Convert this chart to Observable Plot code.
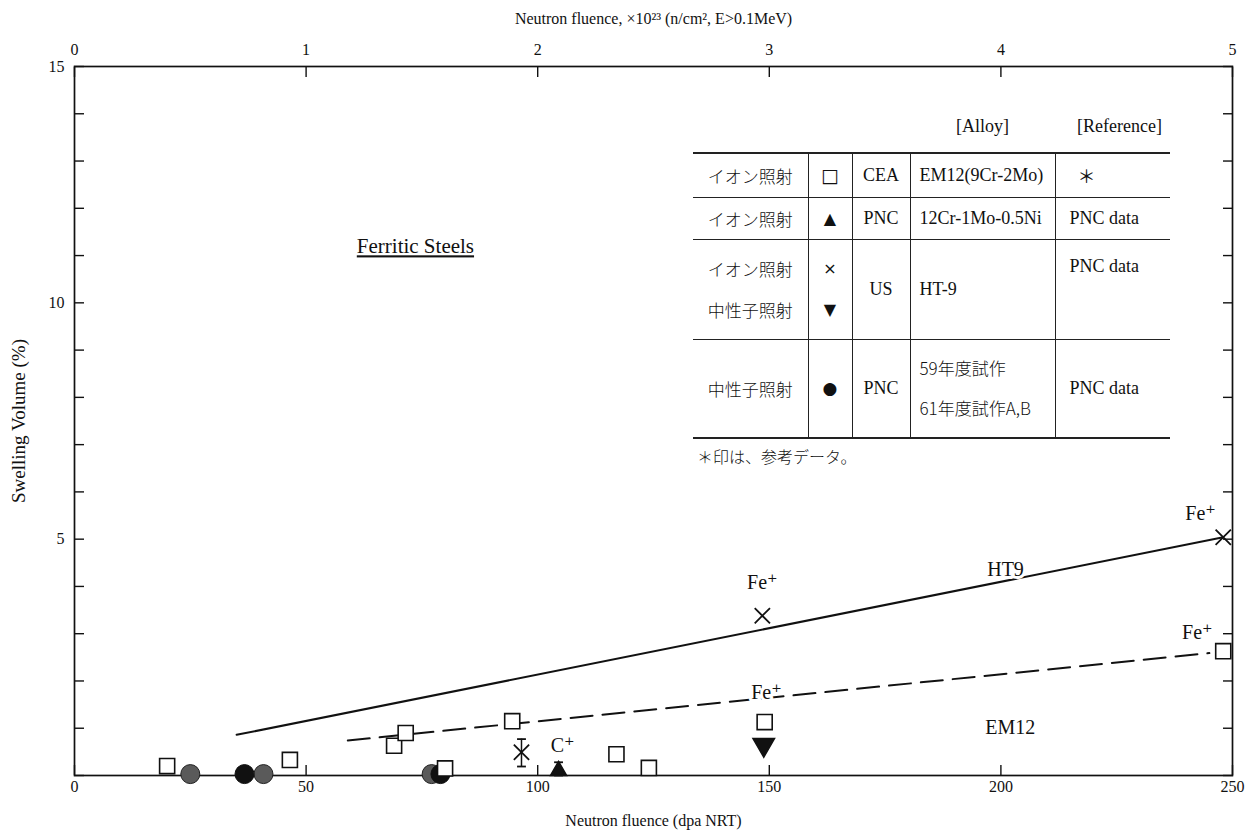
<!DOCTYPE html>
<html><head><meta charset="utf-8">
<script src="https://cdn.jsdelivr.net/npm/d3@7"></script>
<script src="https://cdn.jsdelivr.net/npm/@observablehq/plot@0.6"></script>
<style>
html,body{margin:0;padding:0;background:#fff;}
#wrap{position:relative;width:1260px;height:836px;overflow:hidden;background:#fff;}
#legend{position:absolute;left:693px;top:104px;font-family:'Liberation Serif','Noto Sans CJK JP',serif;font-size:18px;color:#111;}
#legend table{border-collapse:collapse;table-layout:fixed;width:477px;}
#legend td{padding:0;white-space:nowrap;}
#legend tr.b td{border-top:1.5px solid #222;}
#legend tr.b td+td{border-left:1.5px solid #222;}
#legend tr.first td{border-top:2px solid #222;}
#legend tr.last td{border-bottom:2px solid #222;}
.c{text-align:center;}
.l{text-align:left;padding-left:9px !important;}
.r{text-align:left;padding-left:14px !important;}
.jp{font-family:'Noto Sans CJK JP',sans-serif;font-size:17px;font-weight:300;}
.sym{font-family:'DejaVu Sans',sans-serif;font-size:19px;}
.two div{line-height:41px;}
#foot{position:absolute;left:697px;top:446px;font-family:'Noto Sans CJK JP',sans-serif;font-size:16px;font-weight:300;color:#111;line-height:20px;}
</style></head>
<body>
<div id="wrap">
<div id="chart"></div>
<div id="legend">
<table>
<colgroup><col style="width:115px"><col style="width:44px"><col style="width:58px"><col style="width:145px"><col style="width:115px"></colgroup>
<tr style="height:49px"><td></td><td></td><td></td><td class="c" style="vertical-align:top;padding-top:12px">[Alloy]</td><td class="c" style="vertical-align:top;padding-top:12px;padding-left:14px">[Reference]</td></tr>
<tr class="b first" style="height:44px"><td class="c jp">イオン照射</td><td class="c sym">□</td><td class="c">CEA</td><td class="l">EM12(9Cr-2Mo)</td><td class="r" style="padding-left:22px !important">＊</td></tr>
<tr class="b" style="height:42px"><td class="c jp">イオン照射</td><td class="c sym" style="font-size:16px">▲</td><td class="c">PNC</td><td class="l">12Cr-1Mo-0.5Ni</td><td class="r">PNC data</td></tr>
<tr class="b" style="height:100px"><td class="c jp two"><div>イオン照射</div><div>中性子照射</div></td><td class="c sym two" style="font-size:16px"><div>×</div><div>▼</div></td><td class="c">US</td><td class="l">HT-9</td><td class="r" style="vertical-align:top;padding-top:16px">PNC data</td></tr>
<tr class="b last" style="height:99px"><td class="c jp">中性子照射</td><td class="c sym" style="font-size:17px">●</td><td class="c">PNC</td><td class="l two"><div class="jp" style="line-height:40px">59年度試作</div><div class="jp" style="line-height:40px">61年度試作A,B</div></td><td class="r">PNC data</td></tr>
</table>
</div>
<div id="foot">＊印は、参考データ。</div>
</div>
<script>
// ---- data ----
// EM12 (9Cr-2Mo), CEA, ion irradiation (open squares)
const em12Dpa   = [20, 46.5, 69, 71.5, 80, 94.5, 117, 124, 149, 248];
const em12Swell = [0.2, 0.33, 0.63, 0.9, 0.15, 1.15, 0.45, 0.16, 1.13, 2.63];
// PNC neutron irradiation (filled circles), two trial batches
const pncNeutronADpa   = [25, 40.8, 77.1];
const pncNeutronASwell = [0.03, 0.03, 0.03];
const pncNeutronBDpa   = [36.7, 79.0];
const pncNeutronBSwell = [0.03, 0.03];
// PNC 12Cr-1Mo-0.5Ni ion irradiation (C+), filled up-triangle with error bar
const pncIonDpa   = [104.5];
const pncIonSwell = [0.1];
const pncIonLow   = [0];
const pncIonHigh  = [0.28];
// HT-9 ion irradiation (x)
const ht9IonDpa   = [96.5, 148.5, 248];
const ht9IonSwell = [0.49, 3.38, 5.04];
const ht9IonLow   = [0.19, null, null];
const ht9IonHigh  = [0.77, null, null];
// HT-9 neutron irradiation (filled down-triangle)
const ht9NeutronDpa   = [148.8];
const ht9NeutronSwell = [0.65];
// trend lines
const ht9FitDpa   = [35, 248];
const ht9FitSwell = [0.86, 5.04];
const em12FitDpa   = [59, 245];
const em12FitSwell = [0.74, 2.59];
// annotations
const annText  = ["HT9", "EM12", "Fe⁺", "Fe⁺", "Fe⁺", "Fe⁺", "C⁺"];
const annDpa   = [201, 202, 148.5, 149.4, 243.1, 242.4, 105.4];
const annSwell = [4.35, 1.02, 4.08, 1.76, 5.54, 3.03, 0.63];
const titleText = ["Ferritic Steels"];
const titleDpa = [73.6];
const titleSwell = [11.19];
const yTitle = "Swelling Volume (%)";
// axis ticks
const xTicks = [0, 50, 100, 150, 200, 250];
const yTicks = d3.range(0, 16);
const yLabels = [5, 10, 15];

// ---- tables built from the arrays ----
const zip = (xs, ys, extra = {}) => xs.map((x, i) => {
  const o = {x, y: ys[i]};
  for (const k in extra) o[k] = extra[k][i];
  return o;
});
const em12 = zip(em12Dpa, em12Swell);
const nA = zip(pncNeutronADpa, pncNeutronASwell);
const nB = zip(pncNeutronBDpa, pncNeutronBSwell);
const pncIon = zip(pncIonDpa, pncIonSwell, {lo: pncIonLow, hi: pncIonHigh});
const ht9Ion = zip(ht9IonDpa, ht9IonSwell, {lo: ht9IonLow, hi: ht9IonHigh});
const ht9Neu = zip(ht9NeutronDpa, ht9NeutronSwell);
const ht9Fit = zip(ht9FitDpa, ht9FitSwell);
const em12Fit = zip(em12FitDpa, em12FitSwell);
const ann = zip(annDpa, annSwell, {t: annText});
const ttl = zip(titleDpa, titleSwell, {t: titleText});
const errBars = [...pncIon, ...ht9Ion].filter(d => d.lo != null);
const caps = errBars.flatMap(d => [{x: d.x, y: d.lo}, {x: d.x, y: d.hi}]);

const capSymbol = {draw(ctx, size) { const w = Math.sqrt(size) / 2; ctx.moveTo(-w, 0); ctx.lineTo(w, 0); }};

const ink = "#111";
const serif = "'Liberation Serif','DejaVu Serif',serif";

const chart = Plot.plot({
  width: 1260, height: 836,
  marginLeft: 74, marginRight: 28, marginTop: 66, marginBottom: 61,
  x: {domain: [0, 250]},
  y: {domain: [0, 15]},
  style: {fontFamily: serif, fontSize: "16px", color: ink, background: "white", overflow: "visible"},
  marks: [
    Plot.frame({stroke: ink, strokeWidth: 1.7}),
    Plot.axisX({anchor: "bottom", ticks: xTicks, tickSize: -10, tickPadding: 15, strokeWidth: 1.4,
      label: "Neutron fluence (dpa NRT)", labelAnchor: "center", labelOffset: 50, labelArrow: "none", fontSize: 16}),
    Plot.axisX({anchor: "top", ticks: xTicks, tickSize: -10, tickPadding: 22, strokeWidth: 1.4,
      tickFormat: d => d / 50,
      label: "Neutron fluence, ×10²³ (n/cm², E>0.1MeV)", labelAnchor: "center", labelOffset: 54, labelArrow: "none", fontSize: 16}),
    Plot.axisY({anchor: "left", ticks: yTicks, tickSize: -10, tickPadding: 20, strokeWidth: 1.4,
      tickFormat: d => yLabels.includes(d) ? d : "", label: null, fontSize: 16}),
    Plot.axisY({anchor: "right", ticks: yTicks, tickSize: -10, tickFormat: () => "", label: null, strokeWidth: 1.4}),
    Plot.text([yTitle], {frameAnchor: "left", rotate: -90, dx: -56, textAnchor: "middle", fontSize: 19, fill: ink, fontFamily: serif}),
    Plot.line(ht9Fit, {x: "x", y: "y", stroke: ink, strokeWidth: 2}),
    Plot.line(em12Fit, {x: "x", y: "y", stroke: ink, strokeWidth: 2, strokeDasharray: "22,10"}),
    Plot.ruleX(errBars, {x: "x", y1: "lo", y2: "hi", stroke: ink, strokeWidth: 1.5}),
    Plot.dot(caps, {x: "x", y: "y", symbol: capSymbol, r: 5, stroke: ink, strokeWidth: 1.8}),
    Plot.dot(nA, {x: "x", y: "y", r: 9.5, fill: "#5a5a5a", stroke: "#222", strokeWidth: 1}),
    Plot.dot(nB, {x: "x", y: "y", r: 9.5, fill: "#111", stroke: "#111", strokeWidth: 1}),
    Plot.dot(em12, {x: "x", y: "y", symbol: "square", r: 8.5, fill: "white", stroke: ink, strokeWidth: 1.6}),
    Plot.dot(pncIon, {x: "x", y: "y", symbol: "triangle", r: 6, fill: ink, stroke: ink}),
    Plot.dot(ht9Neu, {x: "x", y: "y", symbol: "triangle", rotate: 180, r: 8, fill: ink, stroke: ink}),
    Plot.dot(ht9Ion, {x: "x", y: "y", symbol: "times", r: 7, stroke: ink, strokeWidth: 1.8}),
    Plot.text(ann, {x: "x", y: "y", text: "t", fill: ink, stroke: "white", strokeWidth: 6, fontSize: 20, fontFamily: serif}),
    Plot.text(ttl, {x: "x", y: "y", text: "t", fill: ink, fontSize: 21, fontFamily: serif})
  ]
});

d3.select(chart).selectAll("text")
  .filter(function() { return this.textContent === "Ferritic Steels"; })
  .style("text-decoration", "underline");

document.getElementById("chart").appendChild(chart);
</script>
</body></html>
